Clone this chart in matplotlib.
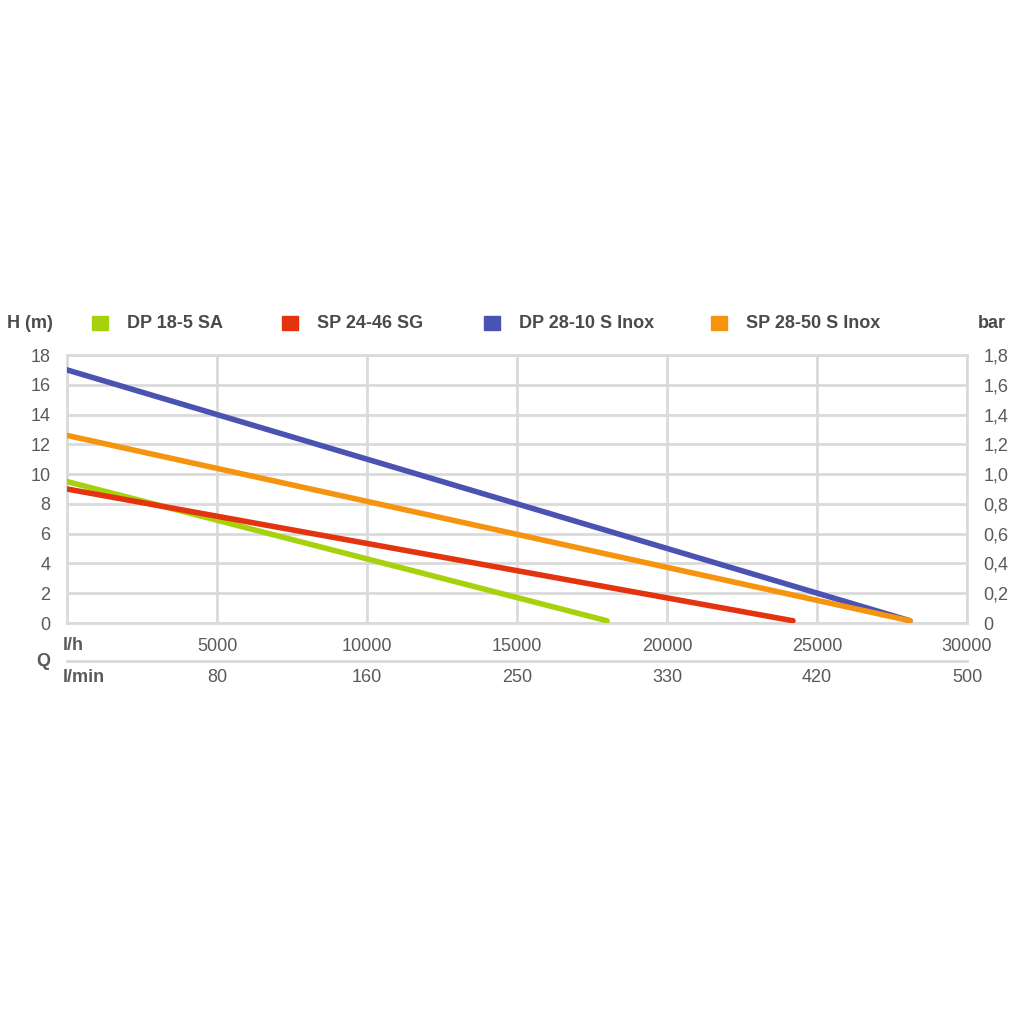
import matplotlib
matplotlib.use("Agg")
import matplotlib.pyplot as plt
from matplotlib.patches import Rectangle

plt.rcParams['font.family'] = ['Liberation Sans', 'DejaVu Sans']

# pump curves: flow (l/h) vs head (m)
names = ["DP 18-5 SA", "SP 24-46 SG", "DP 28-10 S Inox", "SP 28-50 S Inox"]
colors = ["#a5d20c", "#e4330f", "#4b53b2", "#f6940f"]
flow_dp18 = [0, 18000]
head_dp18 = [9.5, 0.15]
flow_sp24 = [0, 24200]
head_sp24 = [9.0, 0.15]
flow_dp28 = [0, 28100]
head_dp28 = [17.0, 0.15]
flow_sp28 = [0, 28100]
head_sp28 = [12.6, 0.15]

lh_ticks = [5000, 10000, 15000, 20000, 25000, 30000]
lmin_labels = ["80", "160", "250", "330", "420", "500"]
h_ticks = [0, 2, 4, 6, 8, 10, 12, 14, 16, 18]
bar_labels = ["0", "0,2", "0,4", "0,6", "0,8", "1,0", "1,2", "1,4", "1,6", "1,8"]

tick_col = "#5a5a5a"
grid_col = "#dadada"
fs = 13

fig = plt.figure(figsize=(10.24, 10.24), dpi=100)
ax = fig.add_axes([67/1024, 1 - 623/1024, 900/1024, 268/1024])

series = [(flow_dp18, head_dp18), (flow_sp24, head_sp24),
          (flow_dp28, head_dp28), (flow_sp28, head_sp28)]
for (x, y), c in zip(series, colors):
    ax.plot(x, y, color=c, lw=4, solid_capstyle='round', zorder=3)

ax.set_xlim(0, 30000)
ax.set_ylim(0, 18)
ax.set_xticks(lh_ticks)
ax.set_xticklabels([str(t) for t in lh_ticks])
ax.set_yticks(h_ticks)
ax.grid(True, color=grid_col, lw=2)
ax.set_axisbelow(True)
for s in ax.spines.values():
    s.set_color(grid_col)
    s.set_linewidth(2)
ax.tick_params(length=0, labelsize=fs, colors=tick_col, pad=12)
ax.tick_params(axis='x', pad=11)

ax2 = ax.twinx()
ax2.set_ylim(0, 18)
ax2.set_yticks(h_ticks)
ax2.set_yticklabels(bar_labels, ha='left')
ax2.tick_params(length=0, labelsize=fs, colors=tick_col, pad=12)
for s in ax2.spines.values():
    s.set_visible(False)

# second flow row (l/min)
tr = ax.get_xaxis_transform()
for t, lab in zip(lh_ticks, lmin_labels):
    ax.text(t, -0.205, lab, transform=tr, ha='center', va='center',
            fontsize=fs, color=tick_col)
ax.plot([0, 30000], [-0.14, -0.14], transform=tr, color=grid_col, lw=2,
        clip_on=False)
fig.text(63/1024, 1 - 645/1024, "l/h", fontsize=fs, fontweight='bold',
         color=tick_col, va='center', ha='left')
fig.text(63/1024, 1 - 677/1024, "l/min", fontsize=fs, fontweight='bold',
         color=tick_col, va='center', ha='left')
fig.text(43/1024, 1 - 661/1024, "Q", fontsize=fs, fontweight='bold',
         color=tick_col, va='center', ha='center')

# header / legend
fig.text(7/1024, 1 - 323/1024, "H (m)", fontsize=fs, fontweight='bold',
         color="#4a4a4a", va='center', ha='left')
fig.text(978/1024, 1 - 323/1024, "bar", fontsize=fs, fontweight='bold',
         color="#4a4a4a", va='center', ha='left')
leg_x = [92, 282, 484, 711]
for x0, n, c in zip(leg_x, names, colors):
    fig.patches.append(Rectangle((x0/1024, 1 - 330/1024), 16/1024, 14/1024,
                                 transform=fig.transFigure, color=c))
    fig.text((x0 + 35)/1024, 1 - 323/1024, n, fontsize=fs, fontweight='bold',
             color="#4a4a4a", va='center', ha='left')

fig.savefig("out.png", dpi=100)
